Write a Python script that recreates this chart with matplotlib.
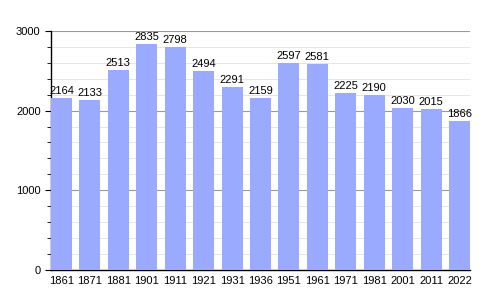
import matplotlib
matplotlib.use("Agg")
import matplotlib.pyplot as plt
from matplotlib.ticker import MultipleLocator

years = ["1861", "1871", "1881", "1901", "1911", "1921", "1931", "1936",
         "1951", "1961", "1971", "1981", "2001", "2011", "2022"]
population = [2164, 2133, 2513, 2835, 2798, 2494, 2291, 2159,
              2597, 2581, 2225, 2190, 2030, 2015, 1866]

plt.rcParams['font.family'] = ['Liberation Sans', 'DejaVu Sans']

fig = plt.figure(figsize=(5, 3), dpi=100)
ax = fig.add_axes([0.102, 0.1, 0.838, 0.797])

x = list(range(len(years)))
w = 0.74
ax.bar(x, population, width=w, color="#99aaff", zorder=3)
for xi, v in zip(x, population):
    ax.text(xi, v + 25, str(v), ha="center", va="bottom", fontsize=8, zorder=4)

ax.set_xlim(-w / 2, len(years) - 1 + w / 2)
ax.set_ylim(0, 3000)
ax.set_xticks(x)
ax.set_xticklabels(years)
ax.yaxis.set_major_locator(MultipleLocator(1000))
ax.yaxis.set_minor_locator(MultipleLocator(200))
ax.grid(axis="y", which="major", color="#999999", linewidth=0.8, zorder=0)
ax.grid(axis="y", which="minor", color="#e0e0e0", linewidth=0.6, zorder=0)
for s in ["top", "right"]:
    ax.spines[s].set_visible(False)
ax.spines["left"].set_linewidth(1.0)
ax.spines["bottom"].set_linewidth(1.0)
ax.tick_params(axis="x", length=0, labelsize=8, pad=4)
ax.tick_params(axis="y", which="major", length=4, labelsize=8)
ax.tick_params(axis="y", which="minor", length=3)

fig.savefig("out.png", dpi=100)
